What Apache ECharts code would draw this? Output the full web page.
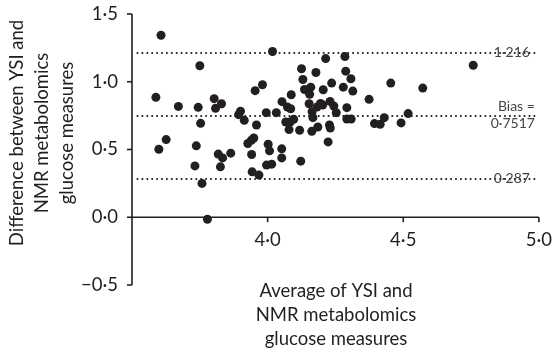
<!DOCTYPE html>
<html>
<head>
<meta charset="utf-8">
<script src="https://cdn.jsdelivr.net/npm/echarts@6/dist/echarts.min.js"></script>
<style>html,body{margin:0;padding:0;background:#fff;}#chart{width:555px;height:349px;}</style>
</head>
<body>
<div id="chart"></div>
<script>
// Average of YSI and NMR metabolomics glucose (x) and their difference (y)
const avgValues = [3.607,3.588,3.599,3.626,3.671,3.750,3.744,3.753,3.737,3.732,3.758,3.778,3.803,3.808,3.830,3.818,3.834,3.826,3.864,3.900,
  3.893,3.914,3.954,3.981,3.959,3.949,3.940,3.927,3.941,3.943,3.968,4.018,3.995,4.002,4.007,3.996,4.015,4.032,4.052,4.052,
  4.053,4.073,4.085,4.087,4.067,4.083,4.096,4.079,4.118,4.122,4.125,4.130,4.136,4.159,4.178,4.155,4.153,4.164,4.167,4.182,
  4.163,4.185,4.205,4.214,4.203,4.230,4.236,4.244,4.253,4.228,4.231,4.223,4.279,4.285,4.288,4.292,4.292,4.307,4.314,4.454,
  4.572,4.758,4.374,4.308,4.394,4.415,4.430,4.492,4.518,4.195];
const diffValues = [1.343,0.885,0.502,0.573,0.818,1.118,0.811,0.693,0.527,0.379,0.250,-0.015,0.875,0.804,0.838,0.466,0.438,0.372,0.473,0.782,
  0.757,0.715,0.934,0.978,0.681,0.585,0.568,0.544,0.463,0.335,0.311,1.223,0.772,0.539,0.490,0.385,0.392,0.772,0.505,0.438,
  0.853,0.813,0.801,0.904,0.703,0.703,0.723,0.647,0.642,0.414,1.096,1.017,0.943,0.960,1.068,0.907,0.838,0.779,0.735,0.813,
  0.635,0.666,0.941,1.171,0.828,0.855,0.990,0.821,0.772,0.681,0.659,0.556,0.960,1.186,1.078,0.809,0.725,1.022,0.931,0.990,
  0.953,1.122,0.870,0.725,0.691,0.686,0.735,0.696,0.765,0.840];
const xTicks = [3.5, 4.0, 4.5, 5.0];
const xTickLabels = ['', '4·0', '4·5', '5·0'];
const yTicks = [-0.5, 0.0, 0.5, 1.0, 1.5];
const yTickLabels = ['−0·5', '0·0', '0·5', '1·0', '1·5'];
const refValues = [1.216, 0.7517, 0.287];
const refLabels = ['1·216', 'Bias =\n0·7517', '0·287'];
const refStart = 3.52;

const FONT = 'Lato, "Open Sans", sans-serif';
const INK = '#231f20';
const chart = echarts.init(document.getElementById('chart'));

function lookup(ticks, labels, v) {
  for (let i = 0; i < ticks.length; i++) if (Math.abs(ticks[i] - v) < 1e-6) return labels[i];
  return '';
}

const points = avgValues.map((x, i) => [x, diffValues[i]]);
const markData = refValues.map((v, i) => [
  {coord: [refStart, v], label: {formatter: refLabels[i], distance: i === 1 ? 4 : 9}},
  {coord: [xTicks[xTicks.length - 1], v]}
]);
const GRID_BOTTOM = 64;

chart.setOption({
  animation: false,
  backgroundColor: '#fff',
  grid: {left: 132, right: 13, top: 14, bottom: GRID_BOTTOM},
  xAxis: {
    type: 'value', min: xTicks[0], max: xTicks[xTicks.length - 1], interval: 0.5,
    offset: 0,
    axisLine: {show: false, onZero: false},
    axisTick: {show: false},
    axisLabel: {margin: 13, color: INK, fontFamily: FONT, fontSize: 18.5,
      formatter: v => lookup(xTicks, xTickLabels, v)},
    splitLine: {show: false}
  },
  yAxis: {
    type: 'value', min: yTicks[0], max: yTicks[yTicks.length - 1], interval: 0.5,
    axisLine: {show: false, onZero: false},
    axisTick: {show: false},
    axisLabel: {margin: 14, color: INK, fontFamily: FONT, fontSize: 18.5,
      formatter: v => lookup(yTicks, yTickLabels, v)},
    splitLine: {show: false}
  },
  graphic: [
    {id: 'ytitle', type: 'text', x: 42, y: 133, rotation: Math.PI / 2,
      style: {text: 'Difference between YSI and\nNMR metabolomics\nglucose measures', font: '18.5px ' + FONT,
        fill: INK, textAlign: 'center', textVerticalAlign: 'middle', lineHeight: 25}},
    {id: 'xtitle', type: 'text', x: 336, y: 315,
      style: {text: 'Average of YSI and\nNMR metabolomics\nglucose measures', font: '18.5px ' + FONT,
        fill: INK, textAlign: 'center', textVerticalAlign: 'middle', lineHeight: 24}}
  ],
  series: [{
    type: 'scatter',
    data: points,
    symbol: 'circle',
    symbolSize: 9,
    itemStyle: {color: INK, opacity: 1},
    markLine: {
      silent: true,
      symbol: ['none', 'none'],
      lineStyle: {color: INK, width: 2, type: [0.1, 4.8], cap: 'round'},
      label: {show: true, position: 'insideEnd', color: '#444', fontFamily: FONT, fontSize: 14, lineHeight: 17, align: 'right'},
      data: markData
    }
  }]
});

// Axis lines and ticks placed through the library's own scales
const px = v => chart.convertToPixel({xAxisIndex: 0}, v);
const py = v => chart.convertToPixel({yAxisIndex: 0}, v);
const zeroY = py(0);
const bottomY = chart.getHeight() - GRID_BOTTOM;
const axisX = px(xTicks[0]);
const TICK = 5;
const strokeStyle = {stroke: INK, lineWidth: 1.6, fill: null};
const axisGraphics = [
  {id: 'yaxisline', type: 'polyline', z: 50, silent: true,
    shape: {points: [[axisX, py(yTicks[0])], [axisX, py(yTicks[yTicks.length - 1])]]}, style: strokeStyle},
  {id: 'xaxisline', type: 'polyline', z: 50, silent: true,
    shape: {points: [[axisX, zeroY], [px(xTicks[xTicks.length - 1]), zeroY]]}, style: strokeStyle}
];
yTicks.forEach((t, i) => axisGraphics.push({id: 'yt' + i, type: 'polyline', z: 50, silent: true,
  shape: {points: [[axisX - TICK, py(t)], [axisX, py(t)]]}, style: strokeStyle}));
xTicks.slice(1).forEach((t, i) => axisGraphics.push({id: 'xt' + i, type: 'polyline', z: 50, silent: true,
  shape: {points: [[px(t), zeroY], [px(t), zeroY + TICK]]}, style: strokeStyle}));

// move the x-axis labels up to the y = 0 line
chart.setOption({xAxis: {offset: zeroY - bottomY}, graphic: axisGraphics});
</script>
</body>
</html>
